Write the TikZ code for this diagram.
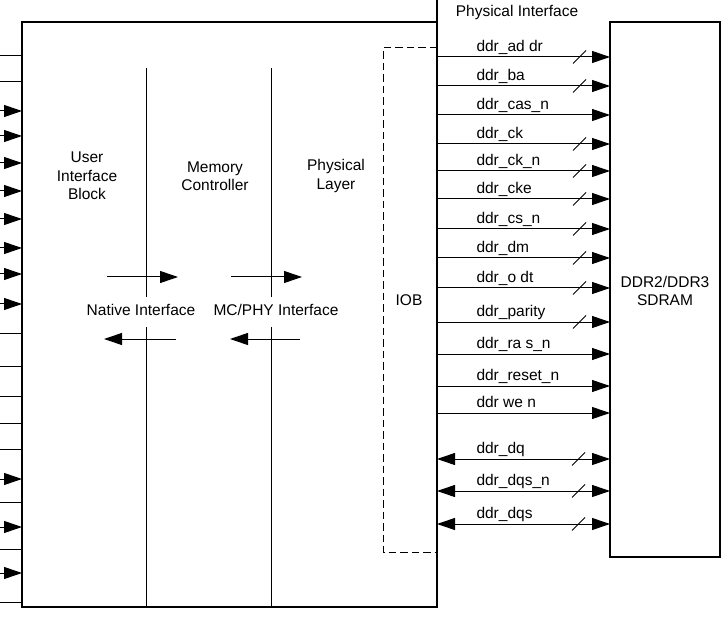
\documentclass[tikz,border=0pt]{standalone}
\usepackage{fontspec}
\setmainfont{Liberation Sans}
\usetikzlibrary{arrows.meta}
\begin{document}
\begin{tikzpicture}[x=1pt,y=-1pt,line width=1pt,
  tri/.style={-{Triangle[length=18pt,width=12pt]}},
  bitri/.style={{Triangle[length=18pt,width=12pt]}-{Triangle[length=18pt,width=12pt]}},
  lbl/.style={font=\fontsize{15.5}{18.5}\selectfont,inner sep=0pt,align=center},
  sig/.style={font=\fontsize{15.5}{18}\selectfont,inner sep=0pt,anchor=base west},
  blk/.style={draw,line width=1.2pt,inner sep=0pt,outer sep=0pt,anchor=north west}]
\useasboundingbox (0,0) rectangle (728,620);
% blocks
\node[blk,minimum width=415pt,minimum height=585pt] (mc) at (22,22) {};
\node[blk,minimum width=110pt,minimum height=535pt] (sd) at (610,22) {};
\coordinate (pitop) at (437,0);
\coordinate (mcne) at (437,22);
\draw[line width=1.2pt] (mcne) -- (pitop);
\node[lbl] (pi) at (517,12) {Physical Interface};
\node[lbl] (sdl) at (665,291) {DDR2/DDR3\\SDRAM};
% dashed IOB
\coordinate (iob1) at (437,48);
\coordinate (iob2) at (383,48);
\coordinate (iob3) at (383,552);
\coordinate (iob4) at (437,552);
\draw[dash pattern=on 7.5pt off 4pt] (iob1) -- (iob2) -- (iob3) -- (iob4);
\node[lbl] (iob) at (409,300) {IOB};
% left side lines
\foreach \y in {56,82,333,366,396,423,449,502,549,602}
  \draw (0,\y) -- (22,\y);
\foreach \y in {111,136,163,191,219,248,274,304,479,527,573}
  \draw[tri] (0,\y) -- (22,\y);
% labels
\node[lbl] (ui) at (87,176) {User\\Interface\\Block};
\node[lbl] (memc) at (215,176) {Memory\\Controller};
\node[lbl] (phl) at (336,176) {Physical\\Layer};
\node[lbl] (ni) at (141,310) {Native Interface};
\node[lbl] (mp) at (276,310) {MC/PHY Interface};
% dividers
\coordinate (d1a) at (146,68); \coordinate (d1b) at (146,297);
\coordinate (d1c) at (146,327); \coordinate (d1d) at (146,607);
\coordinate (d2a) at (271,68); \coordinate (d2b) at (271,297);
\coordinate (d2c) at (271,327); \coordinate (d2d) at (271,607);
\draw (d1a) -- (d1b); \draw (d1c) -- (d1d);
\draw (d2a) -- (d2b); \draw (d2c) -- (d2d);
% interface arrows
\draw[tri] (107,277) -- (178,277);
\draw[tri] (231,277) -- (302,277);
\draw[tri] (176,339) -- (104,339);
\draw[tri] (300,339) -- (230,339);
% signals
\foreach \y/\t/\s in {57/ddr\_ad dr/1,86/ddr\_ba/1,115/ddr\_cas\_n/0,144/ddr\_ck/1,171/ddr\_ck\_n/1,199/ddr\_cke/1,229/ddr\_cs\_n/1,258/ddr\_dm/1,288/ddr\_o dt/1,322/ddr\_parity/1,354/ddr\_ra s\_n/0,386/ddr\_reset\_n/0,413/ddr we n/0}{
  \draw[tri] (437,\y) -- (610,\y);
  \node[sig] at (476,\y-5.5) {\t};
  \ifnum\s=1 \draw (573,\y+6.5) -- (586,\y-6.5); \fi
}
\foreach \y/\t in {459/ddr\_dq,491/ddr\_dqs\_n,524/ddr\_dqs}{
  \draw[bitri] (437,\y) -- (610,\y);
  \node[sig] at (476,\y-5.5) {\t};
  \draw (572,\y+6.5) -- (585,\y-6.5);
}
\end{tikzpicture}
\end{document}
